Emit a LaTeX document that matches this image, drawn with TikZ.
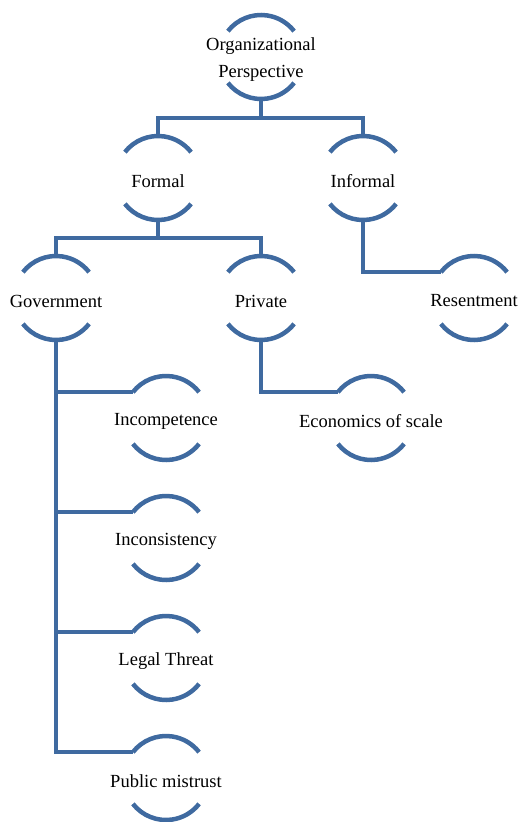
\documentclass[tikz,border=0pt]{standalone}
\usepackage{fontspec}
\setmainfont{Liberation Serif}
\usepackage{xcolor}
\definecolor{archblue}{HTML}{3F6AA0}

\begin{document}
\begin{tikzpicture}
  \tikzstyle{topic}=[rectangle, inner sep=2pt, outer sep=0pt, yshift=-3pt, font=\fontsize{18.5}{27}\selectfont, align=center]
  \tikzstyle{arcline}=[draw=archblue, line width=4.5pt]
  \tikzstyle{link}=[draw=archblue, line width=4.5pt]

  \useasboundingbox (0,0) rectangle (518pt,-822pt);

  \node[topic] (org) at (261pt,-57pt) {Organizational\\Perspective};
  \node[topic] (formal) at (158pt,-178pt) {Formal};
  \node[topic] (informal) at (363pt,-178pt) {Informal};
  \node[topic] (gov) at (56pt,-298pt) {Government};
  \node[topic] (priv) at (261pt,-298pt) {Private};
  \node[topic] (resent) at (474pt,-298pt) {Resentment};
  \node[topic] (incomp) at (166pt,-418pt) {Incompetence};
  \node[topic] (econ) at (371pt,-418pt) {Economics of scale};
  \node[topic] (incons) at (166pt,-538pt) {Inconsistency};
  \node[topic] (legal) at (166pt,-658pt) {Legal Threat};
  \node[topic] (mistrust) at (166pt,-778pt) {Public mistrust};

  \foreach \n in {org,formal,informal,gov,priv,resent,incomp,econ,incons,legal,mistrust} {
    \path (\n.center) ++(0,3pt) coordinate (\n-c);
    \draw[arcline] (\n-c) ++(142:42pt) arc[start angle=142, end angle=38, radius=42pt];
    \draw[arcline] (\n-c) ++(218:42pt) arc[start angle=218, end angle=322, radius=42pt];
    \path (\n-c) ++(142:42pt) coordinate (\n-in);
    \path (\n-c) ++(0,42pt) coordinate (\n-top);
    \path (\n-c) ++(0,-42pt) coordinate (\n-bot);
  }

  \draw[link] (org-bot) -- ++(0,-19pt) -| (formal-top);
  \draw[link] (org-bot) -- ++(0,-19pt) -| (informal-top);
  \draw[link] (formal-bot) -- ++(0,-18pt) -| (gov-top);
  \draw[link] (formal-bot) -- ++(0,-18pt) -| (priv-top);
  \draw[link] (informal-bot) |- (resent-in);
  \draw[link] (priv-bot) |- (econ-in);
  \draw[link] (gov-bot) |- (incomp-in);
  \draw[link] (gov-bot) |- (incons-in);
  \draw[link] (gov-bot) |- (legal-in);
  \draw[link] (gov-bot) |- (mistrust-in);
\end{tikzpicture}
\end{document}
